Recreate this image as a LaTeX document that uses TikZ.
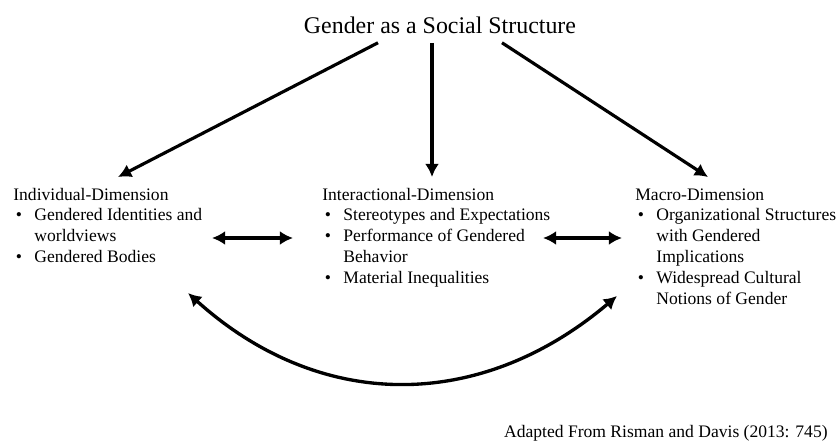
\documentclass[tikz,border=0pt]{standalone}
\usepackage{fontspec}
\setmainfont{Liberation Serif}
\usepackage{tikz}
\usetikzlibrary{arrows.meta,calc}

\newcommand{\itm}{\makebox[12pt][l]{\hspace{1.5pt}\textbullet}}
\newcommand{\ind}{\hspace{12pt}}

\begin{document}
\begin{tikzpicture}[x=0.02cm,y=-0.02cm,
  heading/.style={inner sep=0pt,font=\fontsize{13.6}{16}\selectfont},
  dimbox/.style={inner sep=0pt,anchor=base west,font=\fontsize{10}{11.9}\selectfont},
  arr/.style={line width=1.8pt,-{Latex[length=7.5pt,width=8pt]}},
  dblarr/.style={line width=1.9pt,{Latex[length=7.5pt,width=8pt]}-{Latex[length=7.5pt,width=8pt]}}]
\useasboundingbox (0,0) rectangle (840,447);
% Title
\node[heading] (gss) at (440,25) {Gender as a Social Structure};
% The three dimensions
\node[dimbox] (ind) at (13,200) {\begin{tabular}[t]{@{}l@{}}
Individual-Dimension\\
\itm Gendered Identities and\\
\ind worldviews\\
\itm Gendered Bodies
\end{tabular}};
\node[dimbox] (int) at (322,200) {\begin{tabular}[t]{@{}l@{}}
Interactional-Dimension\\
\itm Stereotypes and Expectations\\
\itm Performance of Gendered\\
\ind Behavior\\
\itm Material Inequalities
\end{tabular}};
\node[dimbox] (mac) at (635,200) {\begin{tabular}[t]{@{}l@{}}
Macro-Dimension\\
\itm Organizational Structures\\
\ind with Gendered\\
\ind Implications\\
\itm Widespread Cultural\\
\ind Notions of Gender
\end{tabular}};
% Source
\node[dimbox,anchor=base east] (src) at (828,437) {Adapted From Risman and Davis (2013: 745)};
% Arrow ends
\coordinate (la) at (212,238);
\coordinate (lb) at (293,238);
\coordinate (ra) at (543,238);
\coordinate (rb) at (622,238);
\coordinate (ca) at (188,293);
\coordinate (cb) at (617,296);
% Top arrows
\draw[arr] ($(gss.south)+(-62,9)$) -- ($(ind.north west)+(105,-8)$);
\draw[arr] ($(gss.south)+(-8,9)$) -- ($(int.north west)+(110,-8)$);
\draw[arr] ($(gss.south)+(62,9)$) -- ($(mac.north west)+(73,-8)$);
% Links between dimensions
\draw[dblarr] (la) -- (lb);
\draw[dblarr] (ra) -- (rb);
\draw[dblarr] (ca) .. controls (320,412) and (480,412) .. (cb);
\end{tikzpicture}
\end{document}
